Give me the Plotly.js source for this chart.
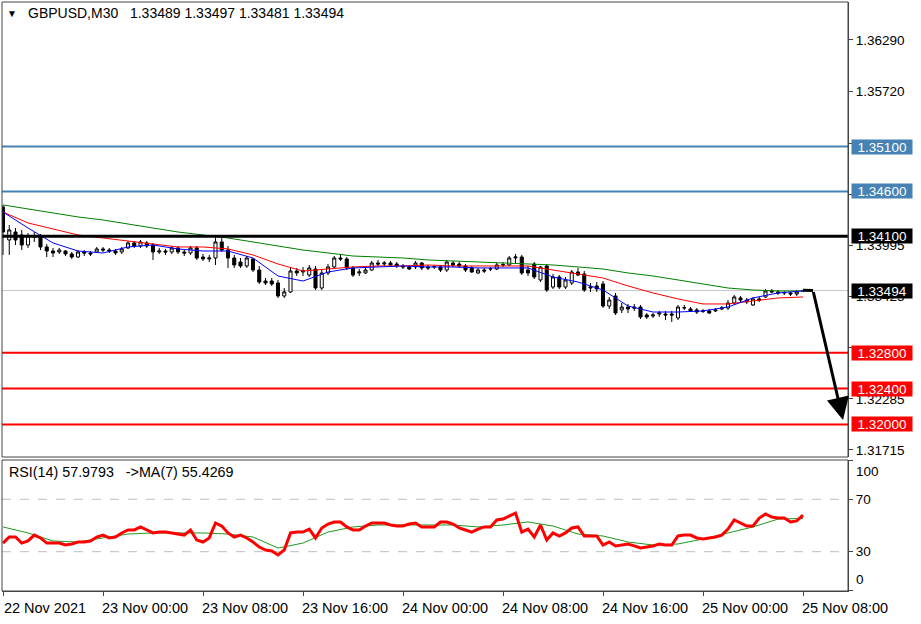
<!DOCTYPE html>
<html><head><meta charset="utf-8">
<script src="https://cdn.plot.ly/plotly-3.0.1.min.js"></script>
<style>html,body{margin:0;padding:0;background:#fff;overflow:hidden}#chart{width:921px;height:624px}</style>
</head><body><div id="chart"></div>
<script>
// ---- data (GBPUSD M30, first bar 22 Nov 2021 16:00) ----
const openP = [1.34426,1.34058,1.34147,1.34114,1.34002,1.34103,1.34103,1.33980,1.33935,1.33924,1.33935,1.33902,1.33868,1.33924,1.33913,1.33924,1.33958,1.33946,1.33935,1.33924,1.33969,1.34025,1.33991,1.34025,1.34002,1.33924,1.33935,1.33924,1.33969,1.33924,1.33913,1.33969,1.33868,1.33846,1.33857,1.34036,1.33946,1.33857,1.33812,1.33768,1.33846,1.33723,1.33600,1.33600,1.33578,1.33433,1.33478,1.33712,1.33701,1.33667,1.33734,1.33522,1.33690,1.33757,1.33857,1.33846,1.33746,1.33690,1.33690,1.33723,1.33801,1.33790,1.33801,1.33790,1.33768,1.33757,1.33757,1.33801,1.33757,1.33757,1.33757,1.33723,1.33801,1.33790,1.33768,1.33746,1.33690,1.33723,1.33734,1.33734,1.33779,1.33779,1.33857,1.33868,1.33723,1.33790,1.33612,1.33768,1.33533,1.33645,1.33533,1.33578,1.33701,1.33679,1.33522,1.33545,1.33567,1.33321,1.33433,1.33277,1.33310,1.33310,1.33310,1.33221,1.33210,1.33232,1.33232,1.33232,1.33188,1.33299,1.33288,1.33277,1.33266,1.33266,1.33266,1.33288,1.33299,1.33355,1.33411,1.33388,1.33333,1.33400,1.33422,1.33489,1.33478,1.33467,1.33467,1.33455,1.33489];
const highP = [1.34449,1.34225,1.34192,1.34170,1.34136,1.34147,1.34125,1.34013,1.33969,1.33969,1.33946,1.33924,1.33946,1.33946,1.33935,1.33980,1.33980,1.33969,1.33958,1.33980,1.34047,1.34047,1.34058,1.34047,1.34025,1.33969,1.33958,1.33991,1.33991,1.33946,1.33991,1.33991,1.33902,1.33891,1.34114,1.34080,1.33991,1.33891,1.33857,1.33879,1.33857,1.33768,1.33634,1.33634,1.33612,1.33522,1.33746,1.33746,1.33757,1.33779,1.33768,1.33723,1.33790,1.33879,1.33891,1.33868,1.33768,1.33734,1.33746,1.33824,1.33835,1.33824,1.33824,1.33812,1.33790,1.33779,1.33824,1.33812,1.33779,1.33779,1.33779,1.33835,1.33824,1.33812,1.33790,1.33768,1.33746,1.33746,1.33757,1.33801,1.33812,1.33879,1.33902,1.33891,1.33768,1.33812,1.33768,1.33790,1.33679,1.33667,1.33645,1.33723,1.33746,1.33712,1.33578,1.33589,1.33600,1.33422,1.33467,1.33355,1.33344,1.33344,1.33333,1.33243,1.33243,1.33266,1.33266,1.33266,1.33333,1.33333,1.33310,1.33299,1.33288,1.33288,1.33299,1.33321,1.33388,1.33444,1.33433,1.33411,1.33422,1.33422,1.33511,1.33511,1.33500,1.33489,1.33478,1.33500,1.33497];
const lowP = [1.33891,1.33891,1.34002,1.33946,1.33969,1.34036,1.33946,1.33868,1.33868,1.33902,1.33879,1.33846,1.33857,1.33879,1.33879,1.33913,1.33924,1.33913,1.33891,1.33902,1.33958,1.33969,1.33969,1.33969,1.33835,1.33902,1.33891,1.33902,1.33902,1.33879,1.33891,1.33835,1.33824,1.33812,1.33779,1.33924,1.33746,1.33746,1.33746,1.33746,1.33701,1.33567,1.33556,1.33545,1.33411,1.33411,1.33467,1.33656,1.33656,1.33645,1.33500,1.33500,1.33667,1.33746,1.33824,1.33723,1.33645,1.33656,1.33679,1.33712,1.33768,1.33768,1.33757,1.33746,1.33734,1.33723,1.33734,1.33723,1.33723,1.33734,1.33701,1.33701,1.33757,1.33746,1.33701,1.33690,1.33679,1.33690,1.33712,1.33723,1.33757,1.33768,1.33790,1.33667,1.33656,1.33623,1.33589,1.33478,1.33511,1.33511,1.33511,1.33556,1.33656,1.33478,1.33478,1.33478,1.33299,1.33288,1.33221,1.33243,1.33243,1.33266,1.33176,1.33176,1.33188,1.33199,1.33165,1.33143,1.33165,1.33277,1.33254,1.33232,1.33243,1.33232,1.33254,1.33277,1.33277,1.33333,1.33366,1.33344,1.33321,1.33366,1.33411,1.33467,1.33444,1.33444,1.33433,1.33433,1.33481];
const closeP = [1.34147,1.34170,1.34058,1.34002,1.34103,1.34091,1.33980,1.33935,1.33913,1.33946,1.33902,1.33868,1.33924,1.33913,1.33902,1.33958,1.33946,1.33935,1.33913,1.33958,1.34025,1.33991,1.34036,1.33991,1.33924,1.33935,1.33924,1.33969,1.33924,1.33913,1.33969,1.33857,1.33846,1.33857,1.34036,1.33946,1.33857,1.33779,1.33768,1.33857,1.33723,1.33589,1.33578,1.33567,1.33433,1.33478,1.33712,1.33690,1.33712,1.33746,1.33522,1.33690,1.33757,1.33857,1.33846,1.33746,1.33667,1.33701,1.33723,1.33801,1.33790,1.33801,1.33779,1.33768,1.33757,1.33734,1.33801,1.33746,1.33746,1.33760,1.33723,1.33812,1.33779,1.33768,1.33723,1.33701,1.33723,1.33712,1.33737,1.33779,1.33782,1.33857,1.33868,1.33690,1.33690,1.33645,1.33757,1.33500,1.33645,1.33533,1.33612,1.33701,1.33667,1.33500,1.33533,1.33511,1.33321,1.33388,1.33243,1.33310,1.33288,1.33299,1.33199,1.33199,1.33221,1.33243,1.33221,1.33221,1.33310,1.33302,1.33266,1.33254,1.33262,1.33243,1.33277,1.33299,1.33355,1.33422,1.33388,1.33366,1.33400,1.33388,1.33489,1.33478,1.33467,1.33470,1.33455,1.33478,1.33494];

// moving averages read every 4 bars
const maBars = [0,4,8,12,16,20,24,28,32,36,40,44,48,52,56,60,64,68,72,76,80,84,88,92,96,100,104,108,112,116,120,124,128];
const maBlue = [1.34370,1.34192,1.34025,1.33935,1.33913,1.33980,1.34002,1.33958,1.33935,1.33935,1.33857,1.33656,1.33600,1.33701,1.33746,1.33757,1.33768,1.33757,1.33757,1.33746,1.33746,1.33746,1.33645,1.33589,1.33500,1.33321,1.33254,1.33254,1.33266,1.33310,1.33411,1.33467,1.33489];
const maRed = [1.34370,1.34248,1.34181,1.34114,1.34080,1.34047,1.34013,1.33980,1.33980,1.33958,1.33891,1.33790,1.33712,1.33734,1.33757,1.33768,1.33768,1.33779,1.33768,1.33768,1.33768,1.33768,1.33723,1.33679,1.33634,1.33545,1.33467,1.33400,1.33344,1.33344,1.33377,1.33411,1.33422];
const maGreen = [1.34449,1.34404,1.34359,1.34315,1.34281,1.34237,1.34192,1.34147,1.34114,1.34080,1.34036,1.33991,1.33946,1.33913,1.33879,1.33868,1.33857,1.33835,1.33824,1.33812,1.33801,1.33790,1.33779,1.33757,1.33734,1.33690,1.33656,1.33612,1.33567,1.33522,1.33500,1.33489,1.33489];

// RSI(14) per bar and its MA(7) every 4 bars
const rsi = [36.6,41.2,41.2,36.6,38.2,42.7,40.5,36.6,36.6,36.6,35.1,35.9,37.4,37.4,38.2,41.2,42.7,40.5,41.2,44.3,46.6,46.6,48.9,46.6,44.3,45.0,45.0,44.3,43.5,42.7,46.6,38.9,37.4,40.5,51.9,49.6,44.3,41.2,42.7,40.5,37.4,33.6,31.3,30.5,27.5,31.3,44.3,45.0,45.0,47.3,40.5,48.1,51.1,52.7,52.7,48.9,46.6,46.6,49.6,51.9,51.9,51.9,50.4,49.6,49.6,51.1,51.9,48.9,48.9,48.9,52.7,52.7,51.1,48.1,46.6,45.0,47.3,48.9,48.9,54.2,54.9,57.2,59.5,45.0,47.3,41.2,50.4,38.9,44.3,42.0,44.3,48.1,48.9,42.0,42.0,42.0,35.1,37.4,34.4,35.1,35.9,34.4,32.8,33.6,34.4,35.9,35.1,35.1,42.0,42.7,42.7,40.5,39.7,40.5,41.2,42.7,47.3,54.2,51.9,49.6,49.6,55.7,58.8,56.5,55.7,55.7,52.7,53.5,57.9793];
const rsiMA = [48.9,44.3,38.2,37.4,40.5,43.5,44.3,44.3,44.3,43.5,41.2,32.8,36.6,45.0,48.9,50.4,50.4,50.4,50.4,48.9,50.4,52.7,49.6,43.5,42.0,37.4,35.1,35.9,39.7,44.3,48.9,54.9,55.4269];

const levelsBlue = [1.35100, 1.34600];
const levelBlack = 1.34100;
const levelsRed = [1.32800, 1.32400, 1.32000];
const currentPrice = 1.33494;
const priceTicks = [1.36290,1.35720,1.35135,1.34565,1.33995,1.33425,1.32855,1.32285,1.31715];
const priceTickText = ['1.36290','1.35720','','','1.33995','1.33425','','1.32285','1.31715'];
const timeTickBars = [0,16,32,48,64,80,96,112,128];
const timeTickText = ['22 Nov 2021','23 Nov 00:00','23 Nov 08:00','23 Nov 16:00','24 Nov 00:00','24 Nov 08:00','24 Nov 16:00','25 Nov 00:00','25 Nov 08:00'];

// ---- helpers ----
const T0 = Date.UTC(2021,10,22,16,0,0);
function barTime(i){
  const d = new Date(T0 + i*30*60000);
  return d.toISOString().slice(0,19).replace('T',' ');
}
const times = closeP.map((_,i)=>barTime(i));
const maTimes = maBars.map(barTime);

const FONT = 'Liberation Sans, Arial, sans-serif';

const traces = [
  {type:'candlestick', x:times, open:openP, high:highP, low:lowP, close:closeP,
   xaxis:'x', yaxis:'y', hoverinfo:'skip', showlegend:false, whiskerwidth:0,
   increasing:{line:{color:'#000',width:1}, fillcolor:'#ffffff'},
   decreasing:{line:{color:'#000',width:1}, fillcolor:'#000000'}},
  {type:'scatter', mode:'lines', x:maTimes, y:maGreen, line:{color:'#008000',width:1}, xaxis:'x', yaxis:'y', hoverinfo:'skip', showlegend:false},
  {type:'scatter', mode:'lines', x:maTimes, y:maRed, line:{color:'#ff0000',width:1}, xaxis:'x', yaxis:'y', hoverinfo:'skip', showlegend:false},
  {type:'scatter', mode:'lines', x:maTimes, y:maBlue, line:{color:'#0000ff',width:1}, xaxis:'x', yaxis:'y', hoverinfo:'skip', showlegend:false},
  {type:'scatter', mode:'lines', x:maTimes, y:rsiMA, line:{color:'#1f9a1f',width:1}, xaxis:'x', yaxis:'y2', hoverinfo:'skip', showlegend:false},
  {type:'scatter', mode:'lines', x:times, y:rsi, line:{color:'#ff0000',width:3}, xaxis:'x', yaxis:'y2', hoverinfo:'skip', showlegend:false}
];

const mainDom = [0.2275, 1];
const rsiDom = [0, 0.2224];

const shapes = [];
function hline(v, color, width, layer){
  shapes.push({type:'line', xref:'paper', x0:0, x1:1, yref:'y', y0:v, y1:v, line:{color:color,width:width}, layer:layer||'above'});
}
hline(currentPrice, '#c8c8c8', 1, 'below');
levelsBlue.forEach(v=>hline(v,'#4682b4',2));
hline(levelBlack,'#000000',3);
levelsRed.forEach(v=>hline(v,'#ff0000',2));
[70,30].forEach(v=>shapes.push({type:'line', xref:'paper', x0:0, x1:1, yref:'y2', y0:v, y1:v, line:{color:'#bdbdbd',width:1,dash:'dash'}, layer:'below'}));
// panel frames
shapes.push({type:'rect', xref:'paper', yref:'paper', x0:0, x1:1, y0:mainDom[0], y1:mainDom[1], line:{color:'#444',width:1}});
shapes.push({type:'rect', xref:'paper', yref:'paper', x0:0, x1:1, y0:rsiDom[0], y1:rsiDom[1], line:{color:'#444',width:1}});
// connector from last bar to the arrow
shapes.push({type:'line', xref:'x', yref:'y', x0:barTime(128), x1:barTime(129.6), y0:1.33497, y1:1.33494, line:{color:'#000',width:3}});

const annotations = [];
function box(v, bg){
  annotations.push({xref:'paper', x:1, xanchor:'left', xshift:3, yref:'y', y:v, yanchor:'middle',
    text:v.toFixed(5), showarrow:false, bgcolor:bg, font:{family:FONT,size:13.5,color:'#ffffff'},
    width:60, height:14, borderpad:0, align:'center'});
}
levelsBlue.forEach(v=>box(v,'#4682b4'));
box(levelBlack,'#000000');
box(currentPrice,'#000000');
levelsRed.forEach(v=>box(v,'#ff0000'));

annotations.push({xref:'paper', yref:'paper', x:0, y:1, xanchor:'left', yanchor:'middle', xshift:3, yshift:-11,
  text:'▼', showarrow:false, font:{family:FONT,size:10,color:'#000'}});
annotations.push({xref:'paper', yref:'paper', x:0, y:1, xanchor:'left', yanchor:'middle', xshift:24, yshift:-11,
  text:'GBPUSD,M30\u00a0\u00a0 1.33489 1.33497 1.33481 1.33494', showarrow:false, font:{family:FONT,size:14,color:'#000'}});
annotations.push({xref:'paper', yref:'paper', x:0, y:rsiDom[1], xanchor:'left', yanchor:'middle', xshift:5, yshift:-12,
  text:'RSI(14) 57.9793\u00a0\u00a0 ->MA(7) 55.4269', showarrow:false, font:{family:FONT,size:14.3,color:'#000'}});
annotations.push({xref:'paper', yref:'y2', x:1, y:100, xanchor:'left', yanchor:'top', xshift:6, yshift:-2,
  text:'100', showarrow:false, font:{family:FONT,size:13.5,color:'#000'}});
annotations.push({xref:'paper', yref:'y2', x:1, y:0, xanchor:'left', yanchor:'bottom', xshift:6, yshift:2,
  text:'0', showarrow:false, font:{family:FONT,size:13.5,color:'#000'}});
// forecast arrow
annotations.push({xref:'x', yref:'y', x:barTime(134.4), y:1.32049, axref:'x', ayref:'y', ax:barTime(129.6), ay:1.33494,
  text:'', showarrow:true, arrowhead:2, arrowsize:1.5, arrowwidth:3, arrowcolor:'#000', standoff:0, startstandoff:0});

const layout = {
  width:921, height:624,
  margin:{l:2, r:73, t:2, b:33},
  paper_bgcolor:'#ffffff', plot_bgcolor:'#ffffff',
  showlegend:false,
  font:{family:FONT, color:'#000'},
  xaxis:{type:'date', anchor:'y2', range:[barTime(-0.16), barTime(135.2)],
    rangeslider:{visible:false}, showgrid:false, zeroline:false,
    tickmode:'array', tickvals:timeTickBars.map(barTime), ticktext:timeTickText,
    ticks:'outside', ticklen:4, tickcolor:'#444', ticklabelshift:42,
    tickfont:{family:FONT,size:14.5,color:'#000'}, showline:true, linecolor:'#444', linewidth:1},
  yaxis:{domain:mainDom, anchor:'x', side:'right', range:[1.31636,1.36714], showgrid:false, zeroline:false,
    tickmode:'array', tickvals:priceTicks, ticktext:priceTickText,
    ticks:'outside', ticklen:4, tickcolor:'#444', showline:true, linecolor:'#444', linewidth:1,
    tickfont:{family:FONT,size:13.5,color:'#000'}},
  yaxis2:{domain:rsiDom, anchor:'x', side:'right', range:[0,100], showgrid:false, zeroline:false,
    tickmode:'array', tickvals:[0,30,70,100], ticktext:['','30','70',''],
    ticks:'outside', ticklen:4, tickcolor:'#444', showline:true, linecolor:'#444', linewidth:1,
    tickfont:{family:FONT,size:13.5,color:'#000'}},
  shapes:shapes, annotations:annotations
};

Plotly.newPlot('chart', traces, layout, {staticPlot:true, displayModeBar:false});
</script></body></html>
